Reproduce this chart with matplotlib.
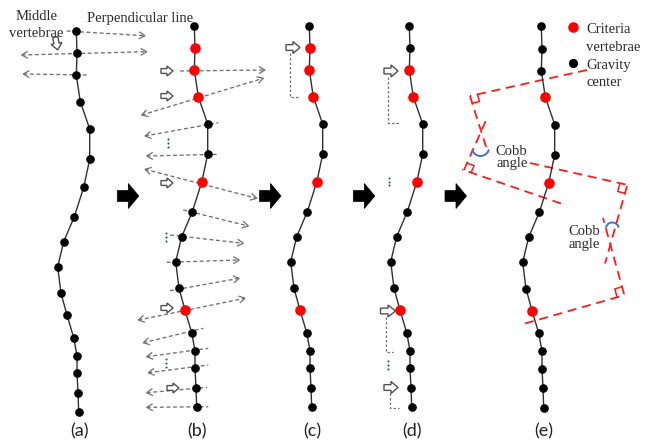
import numpy as np
import matplotlib
matplotlib.use("Agg")
import matplotlib.pyplot as plt
from matplotlib.patches import Polygon

# ---------------- data ----------------
spine_x = [309.3, 310.0, 309.3, 313.3, 322.7, 322.7, 316.7, 307.3, 296.7,
           290.7, 294.0, 300.0, 306.7, 310.0, 310.0, 311.0, 311.7]
spine_y = [25.7, 48.3, 70.0, 96.7, 124.0, 154.3, 182.3, 211.7, 236.7,
           261.7, 288.3, 310.0, 332.7, 350.7, 368.3, 387.7, 407.3]
panel_labels = ['(a)', '(b)', '(c)', '(d)', '(e)']
panel_dx = [-233, -115, 0, 100, 232]
panel_dy = [5, 0, 0, 0, 0.5]
criteria_idx = [[], [1, 2, 3, 6, 11], [1, 2, 3, 6, 11], [2, 3, 6, 11], [3, 6, 11]]

# perpendicular (gray dashed) lines: x0, y0, x1, y1, head at start, head at end
perp_lines = [
    (66.7, 31.0, 145.0, 35.7, False, True),
    (21.7, 55.0, 146.7, 51.7, True, True),
    (23.3, 74.0, 88.3, 75.0, True, False),
    (180.0, 71.0, 265.0, 70.0, False, True),
    (141.7, 115.0, 263.3, 78.3, True, True),
    (145.0, 136.0, 218.3, 122.7, True, False),
    (146.7, 156.0, 219.0, 154.3, True, False),
    (145.0, 169.3, 256.7, 198.3, True, True),
    (183.3, 210.0, 248.3, 226.0, False, True),
    (170.0, 235.0, 243.3, 243.3, False, True),
    (166.7, 262.3, 239.3, 260.0, False, True),
    (170.0, 290.7, 239.3, 278.3, False, True),
    (138.3, 320.0, 245.0, 298.3, True, True),
    (143.3, 342.7, 203.3, 328.3, True, False),
    (146.7, 356.7, 208.3, 348.3, True, False),
    (148.3, 372.7, 208.3, 365.0, True, False),
    (146.7, 392.7, 207.3, 387.3, True, False),
    (146.7, 407.3, 208.3, 406.7, True, False),
]

# dotted brackets in (c) and (d)
brackets = [
    [(290.0, 53.0), (290.0, 97.0), (300.0, 97.0)],
    [(388.3, 77.0), (388.3, 122.7), (400.0, 122.7)],
    [(386.0, 316.7), (386.0, 351.7), (392.7, 351.7)],
    [(390.0, 393.3), (390.0, 408.3), (399.0, 408.3)],
]

# hollow arrows: cx, cy, angle (deg, 0 = right, 90 = down), length, width
hollow_arrows = [
    (56.5, 43.5, 80, 13, 11),
    (167.0, 71.0, 0, 12, 10), (167.0, 96.0, 0, 12, 10), (167.0, 183.0, 0, 12, 10),
    (167.0, 308.0, 0, 12, 10), (173.0, 388.0, 0, 12, 10),
    (293.0, 47.5, 0, 14, 12),
    (391.0, 71.0, 0, 14, 12), (388.0, 311.0, 0, 15, 12), (391.0, 387.5, 0, 14, 12),
]

# black block arrows between panels (left x)
block_arrow_x = [117.3, 259.5, 353.3, 445.0]
block_arrow_y = 196.0

# vertical ellipsis marks
ellipsis_pts = [(168.0, 143.0), (166.0, 237.0), (166.0, 363.0), (389.3, 181.7), (388.3, 365.0)]

# Cobb construction lines (red dashed) in (e)
cobb_lines = [
    [(587.0, 70.0), (470.0, 96.0)],
    [(470.0, 96.0), (488.0, 153.0)],
    [(561.0, 203.5), (462.0, 169.5)],
    [(464.0, 170.0), (487.0, 118.0)],
    [(530.0, 163.0), (628.0, 185.0)],
    [(627.0, 186.0), (605.0, 263.5)],
    [(525.0, 323.5), (625.0, 295.0)],
    [(624.0, 294.0), (603.0, 218.0)],
]
right_angles = [  # corner, point on line A, point on line B
    ((470.0, 96.0), (587.0, 70.0), (488.0, 153.0)),
    ((464.0, 170.0), (561.0, 203.5), (487.0, 118.0)),
    ((627.0, 186.0), (530.0, 163.0), (605.0, 263.5)),
    ((624.0, 294.0), (525.0, 323.5), (603.0, 218.0)),
]
cobb_arcs = [  # cx, cy, r, theta1, theta2 (y down)
    (480.5, 147.5, 8.5, 20, 160),
    (612.3, 229.0, 6.5, 200, 340),
]

# ---------------- figure ----------------
fig = plt.figure(figsize=(6.52, 4.45), dpi=100)
ax = fig.add_axes([0, 0, 1, 1])
ax.set_xlim(0, 652)
ax.set_ylim(445, 0)
ax.axis('off')

GRAY = '#707070'
RED = '#FF1A1A'

def chevron(x_tip, y_tip, dx, dy, L=5.5, W=3.2):
    n = np.hypot(dx, dy)
    ux, uy = dx / n, dy / n
    px, py = -uy, ux
    bx, by = x_tip - ux * L, y_tip - uy * L
    ax.plot([bx + px * W, x_tip, bx - px * W], [by + py * W, y_tip, by - py * W],
            color=GRAY, lw=0.9, solid_joinstyle='miter', zorder=2)

for x0, y0, x1, y1, h0, h1 in perp_lines:
    ax.plot([x0, x1], [y0, y1], color=GRAY, lw=0.95, ls=(0, (3.0, 2.0)), zorder=2)
    if h0:
        chevron(x0, y0, x0 - x1, y0 - y1)
    if h1:
        chevron(x1, y1, x1 - x0, y1 - y0)

for br in brackets:
    xs, ys = zip(*br)
    ax.plot(xs, ys, color=GRAY, lw=0.9, ls=(0, (2.0, 1.6)), zorder=2)

for cx, cy, ang, L, W in hollow_arrows:
    t = np.deg2rad(ang)
    ux, uy = np.cos(t), np.sin(t)
    px, py = -uy, ux
    hl = L * 0.5
    sw = W * 0.48
    local = [(-L / 2, -sw / 2), (L / 2 - hl, -sw / 2), (L / 2 - hl, -W / 2), (L / 2, 0),
             (L / 2 - hl, W / 2), (L / 2 - hl, sw / 2), (-L / 2, sw / 2)]
    pts = [(cx + a * ux + b * px, cy + a * uy + b * py) for a, b in local]
    ax.add_patch(Polygon(pts, closed=True, facecolor='white', edgecolor='#505050',
                         lw=1.0, zorder=4))

for x in block_arrow_x:
    y = block_arrow_y
    pts = [(x, y - 5.5), (x + 11, y - 5.5), (x + 11, y - 12.5), (x + 21.5, y),
           (x + 11, y + 12.5), (x + 11, y + 5.5), (x, y + 5.5)]
    ax.add_patch(Polygon(pts, closed=True, facecolor='black', edgecolor='black',
                         lw=0.5, zorder=4))

for ex, ey in ellipsis_pts:
    ax.plot([ex, ex, ex], [ey - 3.6, ey, ey + 3.6], ls='none', marker='o', ms=1.5,
            mew=0, color='#2f4f80', zorder=3)

for seg in cobb_lines:
    xs, ys = zip(*seg)
    ax.plot(xs, ys, color=RED, lw=1.3, ls=(0, (5.0, 3.2)), zorder=2)

for c, a, b in right_angles:
    c = np.array(c); a = np.array(a); b = np.array(b)
    ua = (a - c) / np.linalg.norm(a - c)
    ub = (b - c) / np.linalg.norm(b - c)
    s = 7.5
    p1 = c + ua * s
    p2 = c + ua * s + ub * s
    p3 = c + ub * s
    ax.plot([p1[0], p2[0], p3[0]], [p1[1], p2[1], p3[1]], color=RED, lw=1.1, zorder=2)

for cx, cy, r, t1, t2 in cobb_arcs:
    th = np.deg2rad(np.linspace(t1, t2, 40))
    ax.plot(cx + r * np.cos(th), cy + r * np.sin(th), color='#4472C4', lw=1.4, zorder=3)

# spines
sx = np.array(spine_x)
sy = np.array(spine_y)
for k in range(5):
    px = sx + panel_dx[k]
    py = sy + panel_dy[k]
    ax.plot(px, py, color='#303030', lw=1.0, zorder=5)
    black = [i for i in range(len(sx)) if i not in criteria_idx[k]]
    ax.plot(px[black], py[black], ls='none', marker='o', ms=5.2, color='black',
            mec='black', zorder=6)
    if criteria_idx[k]:
        ci = criteria_idx[k]
        ax.plot(px[ci], py[ci], ls='none', marker='o', ms=6.6, color='#FF0000',
                mec='#FF0000', zorder=6)
    ax.text(px[-1] + 0.5, 431, panel_labels[k], fontsize=13, family='Lato',
            ha='center', va='center', color='#222222')

# legend
ax.plot([572.7], [26.7], ls='none', marker='o', ms=6.6, color='#FF0000', zorder=6)
ax.plot([572.7], [63.3], ls='none', marker='o', ms=5.6, color='black', zorder=6)

serif = 'Liberation Serif'
tc = '#2a2a2a'
fs = 10.5
ax.text(586.5, 33.0, 'Criteria', fontsize=fs, family=serif, color=tc, va='baseline')
ax.text(586.5, 51.0, 'vertebrae', fontsize=fs, family=serif, color=tc, va='baseline')
ax.text(586.5, 69.0, 'Gravity', fontsize=fs, family=serif, color=tc, va='baseline')
ax.text(586.5, 86.5, 'center', fontsize=fs, family=serif, color=tc, va='baseline')

ax.text(36.3, 20.0, 'Middle', fontsize=fs, family=serif, color=tc, va='baseline', ha='center')
ax.text(36.0, 36.7, 'vertebrae', fontsize=fs, family=serif, color=tc, va='baseline', ha='center')
ax.text(140.5, 22.0, 'Perpendicular line', fontsize=fs, family=serif, color=tc,
        va='baseline', ha='center')

ax.text(511.5, 155.0, 'Cobb', fontsize=fs, family=serif, color=tc, va='baseline', ha='center')
ax.text(511.7, 166.5, 'angle', fontsize=fs, family=serif, color=tc, va='baseline', ha='center')
ax.text(584.0, 235.0, 'Cobb', fontsize=fs, family=serif, color=tc, va='baseline', ha='center')
ax.text(584.5, 248.0, 'angle', fontsize=fs, family=serif, color=tc, va='baseline', ha='center')

fig.savefig('out.png', dpi=100, facecolor='white')
